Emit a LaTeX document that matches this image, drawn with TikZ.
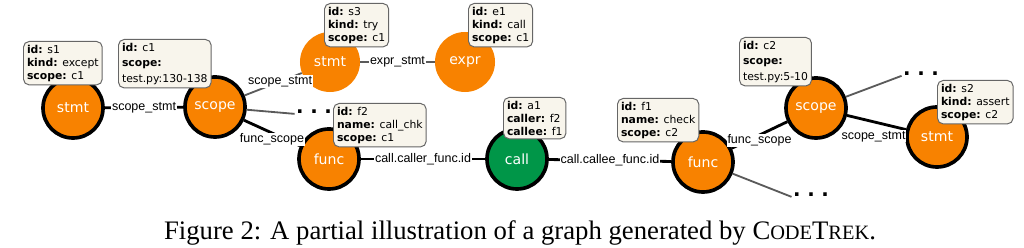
\documentclass[tikz,border=0pt]{standalone}
\usepackage{fontspec}
\setmainfont{Liberation Serif}
\setsansfont{DejaVu Sans}
\newfontfamily\labelfont{Liberation Sans}
\usetikzlibrary{positioning,calc}
\definecolor{cOrange}{RGB}{248,130,0}
\definecolor{cGreen}{RGB}{0,150,72}
\definecolor{cCream}{RGB}{248,245,236}
\definecolor{cEdge}{RGB}{90,90,90}
\tikzset{
  basecirc/.style={circle,minimum size=1.5cm,inner sep=0pt,text=white,
                   font=\sffamily\fontsize{10}{12}\selectfont},
  orangenode/.style={basecirc,fill=cOrange,draw=black,line width=2.6pt},
  greennode/.style={basecirc,fill=cGreen,draw=black,line width=2.6pt},
  plainnode/.style={basecirc,fill=cOrange},
  infobox/.style={rectangle,rounded corners=4pt,draw=black!60,fill=cCream,
                  line width=0.7pt,align=left,inner sep=2.5pt,
                  font=\sffamily\fontsize{7.7}{9.2}\selectfont},
  widebox/.style={infobox,font=\sffamily\fontsize{7.7}{11}\selectfont},
  dotnode/.style={inner sep=1pt,font=\sffamily\bfseries\fontsize{14}{14}\selectfont},
  elabel/.style={fill=white,text=black,inner sep=0.5pt,
                 font=\labelfont\fontsize{8.9}{10}\selectfont},
  thkedge/.style={line width=2pt,color=black},
  gryedge/.style={line width=1.3pt,color=cEdge}
}
\begin{document}
\begin{tikzpicture}[x=0.025cm,y=-0.025cm]
  \useasboundingbox (0,0) rectangle (1024,248);

  % graph nodes
  \node[orangenode] (s1) at (73,108) {stmt};
  \node[orangenode] (c1) at (215,107) {scope};
  \node[plainnode] (s3) at (330,62) {stmt};
  \node[plainnode] (e1) at (465,62) {expr};
  \node[orangenode] (f2) at (329,159) {func};
  \node[greennode] (a1) at (517,159) {call};
  \node[orangenode] (f1) at (703,162) {func};
  \node[orangenode] (c2) at (816,108) {scope};
  \node[orangenode] (s2) at (937,137) {stmt};

  \node[dotnode] (dotsA) at (314,112) {.\,\,.\,\,.};
  \node[dotnode] (dotsB) at (921,74) {.\,\,.\,\,.};
  \node[dotnode] (dotsC) at (811,195) {.\,\,.\,\,.};

  % edges
  \draw[thkedge] (s1) -- (c1) node[elabel,midway] {scope\_stmt};
  \draw[gryedge] (c1) -- (s3) node[elabel,pos=0.62] {scope\_stmt};
  \draw[gryedge] (c1) -- (dotsA.base west);
  \draw[thkedge] (c1) -- (f2) node[elabel,pos=0.5,below=-1pt] {func\_scope};
  \draw[gryedge] (s3) -- (e1) node[elabel,midway] {expr\_stmt};
  \draw[thkedge] (f2) -- (a1) node[elabel,midway] {call.caller\_func.id};
  \draw[thkedge] (a1) -- (f1) node[elabel,midway] {call.callee\_func.id};
  \draw[thkedge] (f1) -- (c2) node[elabel,pos=0.5,below=-2pt] {func\_scope};
  \draw[thkedge] (c2) -- (s2) node[elabel,pos=0.45,below=5pt] {scope\_stmt};
  \draw[gryedge] (c2) -- (dotsB.base west);
  \draw[gryedge] (f1) -- (dotsC.base west);

  % info boxes
  \node[infobox,anchor=north west] (s1box) at (23,41)
      {\textbf{id:} s1\\\textbf{kind:} except\\\textbf{scope:} c1};
  \node[widebox,anchor=north west] (c1box) at (118,39)
      {\textbf{id:} c1\\\textbf{scope:}\\test.py:130-138};
  \node[infobox,anchor=north west] (s3box) at (324,3)
      {\textbf{id:} s3\\\textbf{kind:} try\\\textbf{scope:} c1};
  \node[infobox,anchor=north west] (e1box) at (468,3)
      {\textbf{id:} e1\\\textbf{kind:} call\\\textbf{scope:} c1};
  \node[infobox,anchor=north west] (f2box) at (333,103)
      {\textbf{id:} f2\\\textbf{name:} call\_chk\\\textbf{scope:} c1};
  \node[infobox,anchor=north west] (a1box) at (503,97)
      {\textbf{id:} a1\\\textbf{caller:} f2\\\textbf{callee:} f1};
  \node[infobox,anchor=north west] (f1box) at (617,98)
      {\textbf{id:} f1\\\textbf{name:} check\\\textbf{scope:} c2};
  \node[widebox,anchor=north west] (c2box) at (739,37)
      {\textbf{id:} c2\\\textbf{scope:}\\test.py:5-10};
  \node[infobox,anchor=north west] (s2box) at (937,80)
      {\textbf{id:} s2\\\textbf{kind:} assert\\\textbf{scope:} c2};

  % caption
  \node[anchor=base,inner sep=0pt,font=\fontsize{19}{22}\selectfont] (caption) at (520,239)
      {Figure 2: A partial illustration of a graph generated by
       C{\fontsize{14.5}{16}\selectfont ODE}T{\fontsize{14.5}{16}\selectfont REK}.};
\end{tikzpicture}
\end{document}
